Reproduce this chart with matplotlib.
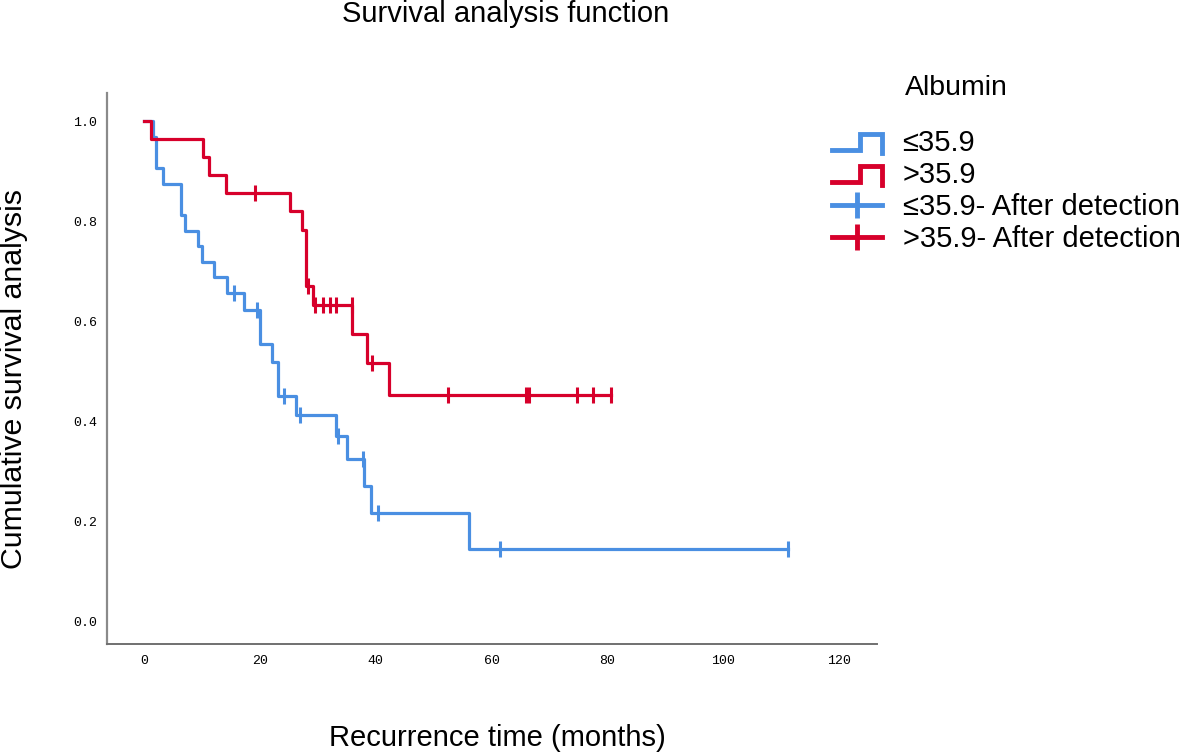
import matplotlib
matplotlib.use("Agg")
import matplotlib.pyplot as plt
from matplotlib.lines import Line2D
from matplotlib.legend_handler import HandlerBase

# Kaplan-Meier steps (months, cumulative survival)
low_times = [0, 1.55, 2.0, 3.2, 6.3, 7.0, 9.2, 9.9, 12.0, 14.3, 17.15, 20.0, 22.0,
             23.1, 26.2, 33.1, 34.95, 38.0, 39.15, 56.1, 111.2]
low_surv = [1.0, 0.969, 0.906, 0.875, 0.8125, 0.781, 0.75, 0.719, 0.6875, 0.656,
            0.623, 0.554, 0.519, 0.450, 0.4125, 0.371, 0.325, 0.271, 0.217,
            0.1445, 0.1445]
low_cens_t = [15.5, 19.4, 24.1, 26.9, 33.4, 37.8, 40.4, 61.4, 111.2]
low_cens_s = [0.656, 0.623, 0.450, 0.4125, 0.371, 0.325, 0.217, 0.1445, 0.1445]

high_times = [0, 1.2, 10.2, 11.2, 14.2, 25.2, 27.3, 28.0, 29.1, 35.8, 38.4, 42.3, 80.6]
high_surv = [1.0, 0.964, 0.929, 0.893, 0.857, 0.820, 0.783, 0.671, 0.632, 0.574,
             0.517, 0.452, 0.452]
high_cens_t = [19.2, 28.2, 29.5, 30.9, 32.0, 33.2, 35.8, 39.3, 52.5, 65.9, 66.4,
               74.8, 77.5, 80.6]
high_cens_s = [0.857, 0.671, 0.632, 0.632, 0.632, 0.632, 0.632, 0.517, 0.452, 0.452,
               0.452, 0.452, 0.452, 0.452]

x_ticks = [0, 20, 40, 60, 80, 100, 120]
y_ticks = [0.0, 0.2, 0.4, 0.6, 0.8, 1.0]

blue = "#4A8FE2"
red = "#D7002B"
sans = ["Liberation Sans", "DejaVu Sans"]
mono = ["Liberation Mono", "DejaVu Sans Mono"]


class StepHandler(HandlerBase):
    # little step-shaped legend key like SPSS draws
    def create_artists(self, legend, orig_handle, xdescent, ydescent,
                       width, height, fontsize, trans):
        x0 = -xdescent
        y0 = -ydescent
        xs = [x0, x0 + 0.55 * width, x0 + 0.55 * width, x0 + width, x0 + width]
        ys = [y0 + 0.05 * height, y0 + 0.05 * height, y0 + 0.85 * height,
              y0 + 0.85 * height, y0 - 0.1 * height]
        ln = Line2D(xs, ys, color=orig_handle.get_color(), lw=3.5,
                    solid_joinstyle="miter", transform=trans)
        return [ln]


fig = plt.figure(figsize=(11.81, 7.53), dpi=100)
ax = fig.add_axes([0.0903, 0.1454, 0.6525, 0.7315])

ax.step(low_times, low_surv, where="post", color=blue, lw=2.3)
ax.step(high_times, high_surv, where="post", color=red, lw=2.3)
ax.plot(low_cens_t, low_cens_s, ls="none", marker="|", ms=11, mew=2.2, color=blue)
ax.plot(high_cens_t, high_cens_s, ls="none", marker="|", ms=11, mew=2.2, color=red)

ax.set_xlim(-6.5, 126.6)
ax.set_ylim(-0.045, 1.057)
ax.set_xticks(x_ticks)
ax.set_yticks(y_ticks)
ax.set_xticklabels([str(t) for t in x_ticks])
ax.set_yticklabels([f"{t:.1f}" for t in y_ticks])
ax.tick_params(length=0, labelsize=9.5)
ax.tick_params(axis="x", pad=8)
ax.tick_params(axis="y", pad=7)
for lab in ax.get_xticklabels() + ax.get_yticklabels():
    lab.set_family(mono)

for side in ["top", "right"]:
    ax.spines[side].set_visible(False)
ax.spines["left"].set_color("#8a8a8a")
ax.spines["bottom"].set_color("#707070")
ax.spines["left"].set_linewidth(1.6)
ax.spines["bottom"].set_linewidth(1.4)

fig.text(506 / 1181, 1 - 22 / 753, "Survival analysis function", ha="center",
         va="baseline", fontsize=21, family=sans)
fig.text(497 / 1181, 1 - 738 / 753, "Recurrence time (months)", ha="center",
         va="center", fontsize=21, family=sans)
fig.text(14 / 1181, 1 - 379 / 753, "Cumulative survival analysis", ha="center",
         va="center", rotation=90, fontsize=21.8, family=sans)
fig.text(905 / 1181, 1 - 95 / 753, "Albumin", ha="left", va="baseline",
         fontsize=20.5, family=sans)

step_low = Line2D([], [], color=blue)
step_high = Line2D([], [], color=red)
cens_low = Line2D([], [], color=blue, lw=3.5, marker="|", ms=19, mew=3.5)
cens_high = Line2D([], [], color=red, lw=3.5, marker="|", ms=19, mew=3.5)

leg = fig.legend([step_low, step_high, cens_low, cens_high],
                 ["≤35.9", ">35.9", "≤35.9- After detection", ">35.9- After detection"],
                 handler_map={step_low: StepHandler(), step_high: StepHandler()},
                 loc="upper left", bbox_to_anchor=(832 / 1181, 1 - 129 / 753),
                 frameon=False, numpoints=1, handlelength=1.72, handleheight=0.7,
                 handletextpad=0.7, labelspacing=0.135, borderpad=0, borderaxespad=0,
                 prop={"family": sans, "size": 21})

fig.savefig("out.png", dpi=100)
